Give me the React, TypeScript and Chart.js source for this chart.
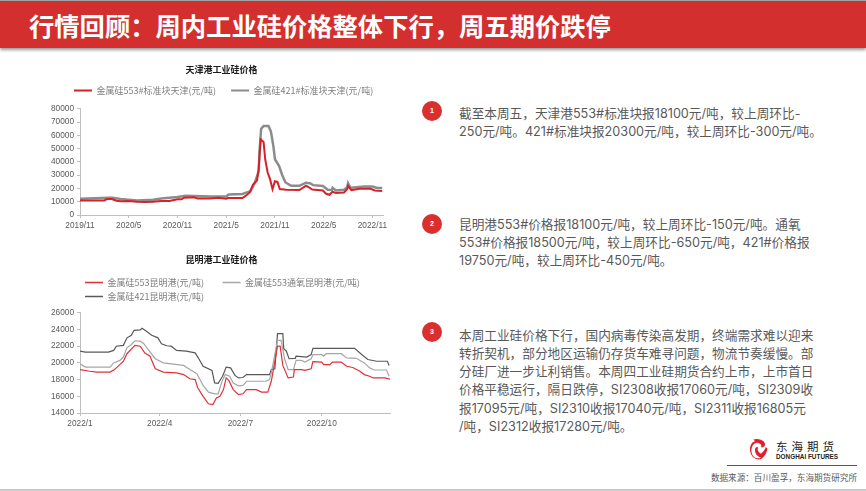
import { Chart, registerables } from 'chart.js';
import { useEffect, useRef } from 'react';

Chart.register(...registerables);

const CJK = '"Noto Sans CJK SC", "Liberation Sans", sans-serif';
const AXIS_FONT = '"Liberation Sans", Arial, sans-serif';
const BODY_FONT = 'Inter, "Noto Sans CJK SC", sans-serif';

const pageTitle = '行情回顾：周内工业硅价格整体下行，周五期价跌停';

// tianjin chart, x is months since 2019/11
const tianjinTitle = '天津港工业硅价格';
const tianjinLabels = ['2019/11', '2020/5', '2020/11', '2021/5', '2021/11', '2022/5', '2022/11'];
const tianjinTicks = [0, 6, 12, 18, 24, 30, 36];
const tj553Months = [0, 2, 3, 3.3, 3.9, 4.5, 5, 6, 7, 8, 9, 10, 11, 12, 12.5, 12.8, 14, 14.5, 16, 17, 18, 18.2, 20, 20.3, 20.9, 21.3, 21.8, 22, 22.1, 22.25, 22.6, 22.8, 23.1, 23.4, 23.7, 24, 24.3, 24.6, 25.4, 27, 27.8, 28, 28.6, 29.9, 30.3, 30.7, 31.1, 31.5, 32.5, 32.9, 33, 33.4, 34.4, 35.7, 36.3, 37.2];
const tj553Values = [11000, 11000, 11000, 12000, 12000, 10800, 10300, 10500, 10000, 9800, 10000, 10500, 10500, 11800, 11800, 13000, 13300, 12500, 12500, 13000, 12200, 12800, 12800, 14000, 17000, 23000, 26000, 35000, 45000, 57000, 55000, 42000, 32000, 27000, 19500, 25500, 25000, 19500, 19000, 18800, 22000, 21500, 19200, 18500, 16000, 15200, 17500, 16500, 17000, 19500, 22000, 18800, 19800, 20000, 18500, 18100];
const tj421Months = [0, 3.5, 4, 5, 7, 9, 10, 12, 13, 16, 18, 18.3, 20, 21, 21.5, 22, 22.1, 22.3, 22.6, 23.2, 23.5, 23.8, 24, 24.5, 24.9, 25.3, 26, 27, 27.8, 28.3, 28.7, 29.9, 30.5, 31, 31.1, 31.5, 32.5, 32.9, 33, 33.3, 35, 36, 36.5, 37.2];
const tj421Values = [12200, 13000, 13000, 12000, 11000, 11500, 12500, 13500, 14500, 14000, 14000, 15500, 15800, 18000, 24000, 33000, 48000, 65000, 67000, 67000, 63000, 52000, 42000, 37000, 30000, 24500, 22000, 22000, 24200, 24000, 22500, 21800, 19000, 18800, 20500, 18500, 19000, 21000, 24000, 20500, 21500, 21500, 20500, 20300];

// kunming chart, x is days since 2022/1/1
const kunmingTitle = '昆明港工业硅价格';
const kunmingLabels = ['2022/1', '2022/4', '2022/7', '2022/10'];
const kunmingTicks = [0, 90, 181, 273];
const km553Days = [0, 11, 19, 34, 39, 49, 53, 62, 68, 73, 79, 85, 94, 109, 117, 124, 130, 133, 139, 145, 150, 154, 158, 162, 165, 168, 173, 179, 184, 188, 199, 205, 212, 216, 223, 226, 229, 235, 241, 242, 250, 254, 261, 263, 273, 275, 282, 285, 295, 301, 308, 316, 321, 327, 331, 344, 350];
const km553Values = [19200, 19000, 18900, 18900, 19200, 20200, 21100, 22100, 22000, 21200, 20800, 19300, 18900, 18800, 18600, 18100, 18000, 17000, 16000, 15100, 15000, 15800, 16000, 16800, 18200, 17900, 16800, 16200, 16300, 16800, 16800, 16500, 16500, 17800, 22000, 22000, 19700, 18200, 18300, 19200, 19200, 19100, 19300, 20150, 20100, 19800, 19800, 20100, 20100, 19600, 19450, 19000, 18600, 18400, 18200, 18200, 18050];
const kmOxyDays = [0, 6, 34, 38, 45, 49, 53, 58, 62, 68, 72, 77, 85, 94, 117, 124, 132, 139, 145, 152, 156, 160, 164, 169, 173, 179, 184, 188, 210, 214, 216, 223, 227, 231, 235, 241, 244, 250, 254, 261, 263, 273, 275, 278, 295, 301, 312, 321, 327, 332, 346, 349];
const kmOxyValues = [19900, 19500, 19500, 20000, 20300, 20700, 21800, 22200, 22650, 22600, 22300, 21600, 20500, 20000, 19700, 19200, 18700, 17300, 16500, 16300, 16300, 17700, 18600, 18400, 17600, 17250, 17300, 17800, 17800, 18000, 18800, 22700, 22700, 20500, 19200, 19200, 20300, 20300, 20100, 20500, 21000, 21000, 20800, 21100, 21100, 20600, 20550, 20000, 19400, 19150, 19150, 18400];
const km421Days = [0, 6, 32, 38, 41, 49, 53, 58, 61, 68, 70, 75, 81, 88, 92, 98, 103, 109, 120, 130, 133, 139, 149, 152, 156, 161, 165, 170, 175, 179, 184, 188, 214, 216, 220, 223, 229, 230, 233, 236, 243, 244, 256, 261, 263, 310, 318, 325, 335, 347, 349];
const km421Values = [21400, 21300, 21300, 21500, 22000, 22100, 23000, 23300, 23900, 23950, 24150, 23800, 23300, 23000, 22300, 22050, 22000, 21500, 21400, 21200, 20700, 19600, 19100, 17600, 17550, 18400, 19500, 19400, 18500, 18200, 18250, 18600, 18600, 19200, 19300, 23500, 23500, 21700, 21400, 20500, 20550, 20800, 20700, 21000, 21750, 21750, 21000, 20400, 20200, 20200, 19700];

const notes = [
  { top: 104.5, lines: ['截至本周五，天津港553#标准块报18100元/吨，较上周环比-', '250元/吨。421#标准块报20300元/吨，较上周环比-300元/吨。'] },
  { top: 215.5, lines: ['昆明港553#价格报18100元/吨，较上周环比-150元/吨。通氧', '553#价格报18500元/吨，较上周环比-650元/吨，421#价格报', '19750元/吨，较上周环比-450元/吨。'] },
  { top: 326.5, lines: ['本周工业硅价格下行，国内病毒传染高发期，终端需求难以迎来', '转折契机，部分地区运输仍存货车难寻问题，物流节奏缓慢。部', '分硅厂进一步让利销售。本周四工业硅期货合约上市，上市首日', '价格平稳运行，隔日跌停，SI2308收报17060元/吨，SI2309收', '报17095元/吨，SI2310收报17040元/吨，SI2311收报16805元', '/吨，SI2312收报17280元/吨。'] },
];
const badgeCentres = [111, 224, 332];

function pairs(xs: number[], ys: number[]) {
  return xs.map((x, i) => ({ x, y: ys[i] }));
}

type PriceChartProps = {
  style: React.CSSProperties;
  title: string;
  titleShift: number;
  titleBottom: number;
  legendLeft: number;
  legendTop: number;
  legendGap: string;
  legendPadding: number;
  legendWidth: number;
  lineBox: number;
  datasets: { label: string; data: { x: number; y: number }[]; borderColor: string; borderWidth: number }[];
  xMax: number;
  xTicks: number[];
  xLabels: string[];
  yMin: number;
  yMax: number;
  yStep: number;
  paddingRight: number;
};

function PriceChart(props: PriceChartProps) {
  const chartRef = useRef<HTMLCanvasElement | null>(null);

  useEffect(() => {
    if (!chartRef.current) return;
    // title and legend have no offset options of their own
    const blockShift = {
      id: 'blockShift',
      afterLayout(chart: any) {
        if (chart.titleBlock) {
          chart.titleBlock.left += props.titleShift * 2;
        }
        if (chart.legend) {
          chart.legend.left = props.legendLeft;
          chart.legend.right = chart.width;
          chart.legend.top = props.legendTop;
        }
      },
    };
    const chart = new Chart(chartRef.current, {
      type: 'line',
      data: { datasets: props.datasets.map((d) => ({ ...d, pointRadius: 0, tension: 0, fill: false })) },
      plugins: [blockShift],
      options: {
        animation: false,
        responsive: false,
        layout: { padding: { right: props.paddingRight, top: 0, bottom: 0, left: 0 } },
        plugins: {
          title: {
            display: true,
            text: props.title,
            color: '#1a1a1a',
            font: { family: CJK, size: 9, weight: 'bold' },
            padding: { top: 9, bottom: props.titleBottom },
          },
          legend: {
            display: true,
            align: 'start',
            maxWidth: props.legendWidth,
            labels: {
              color: '#7f7f7f',
              font: { family: CJK, size: 9 },
              boxWidth: 18,
              boxHeight: props.lineBox,
              padding: props.legendPadding,
              generateLabels(c: Chart) {
                return Chart.defaults.plugins.legend.labels.generateLabels(c).map((item) => ({
                  ...item,
                  fillStyle: item.strokeStyle,
                  lineWidth: 0,
                  text: item.text + props.legendGap,
                }));
              },
            },
          },
          tooltip: { enabled: false },
        },
        scales: {
          x: {
            type: 'linear',
            min: 0,
            max: props.xMax,
            afterBuildTicks(axis) {
              axis.ticks = props.xTicks.map((value) => ({ value }));
            },
            afterFit(axis) {
              axis.height = 20;
            },
            border: { color: '#bfbfbf' },
            grid: { drawOnChartArea: false, tickLength: 3, color: '#bfbfbf' },
            ticks: {
              maxRotation: 0,
              autoSkip: false,
              color: '#595959',
              padding: 3,
              font: { family: AXIS_FONT, size: 8.3 },
              callback(value) {
                return props.xLabels[props.xTicks.indexOf(value as number)];
              },
            },
          },
          y: {
            min: props.yMin,
            max: props.yMax,
            afterFit(axis) {
              axis.width = 40;
            },
            border: { color: '#bfbfbf' },
            grid: { drawOnChartArea: false, tickLength: 3, color: '#bfbfbf' },
            ticks: {
              stepSize: props.yStep,
              color: '#595959',
              padding: 3,
              font: { family: AXIS_FONT, size: 8.3 },
              callback(value) {
                return String(value);
              },
            },
          },
        },
      },
    });

    return () => chart.destroy();
  }, []);

  return <canvas ref={chartRef} width={370} height={props.style.height as number} style={{ position: 'absolute', display: 'block', ...props.style }}></canvas>;
}

function Logo() {
  return (
    <div style={{ position: 'absolute', left: 750, top: 437 }}>
      <svg width={20} height={25} viewBox="0 0 24 28" style={{ position: 'absolute', left: 0, top: 0 }}>
        <path d="M4 2 C10 0 18 3 18 8 C18 11 15 12 13 11 C15 9 12 6 8 6 C3 7 1 13 2 18 C3 23 8 26 13 24 C10 23 6 20 6 15 C6 11 9 10 10 12 C8 14 10 17 13 19 C16 17 18 14 19 11 L21 13 C20 19 16 25 11 26 C5 26 0 21 0 14 C0 9 2 5 6 4 Z" fill="#e0202a" />
      </svg>
      <div style={{ position: 'absolute', left: 26, top: 3, fontFamily: CJK, fontSize: 11.5, lineHeight: '13px', letterSpacing: 4, color: '#222', whiteSpace: 'nowrap' }}>东海期货</div>
      <div style={{ position: 'absolute', left: 26, top: 16, fontFamily: AXIS_FONT, fontSize: 6.4, fontWeight: 'bold', lineHeight: '8px', color: '#222', whiteSpace: 'nowrap' }}>DONGHAI FUTURES</div>
    </div>
  );
}

export default function App() {
  return (
    <div style={{ position: 'fixed', left: 0, top: 0, width: 866, height: 491, background: '#fff', overflow: 'hidden' }}>
      <div style={{ position: 'absolute', left: 0, top: 0, width: 866, height: 1, background: '#a6a6a6' }}></div>
      <div style={{ position: 'absolute', left: 0, top: 1, width: 866, height: 47, background: '#d32f2f', boxShadow: '0 2px 3px rgba(0,0,0,0.4)' }}></div>
      <div style={{ position: 'absolute', left: 29, top: 7.5, fontFamily: CJK, fontSize: 25.3, lineHeight: '34px', fontWeight: 'bold', color: '#fff', whiteSpace: 'nowrap' }}>{pageTitle}</div>

      <PriceChart
        style={{ left: 40, top: 55, width: 370, height: 180 }}
        title={tianjinTitle}
        titleShift={10}
        titleBottom={0}
        legendLeft={19}
        legendTop={16}
        legendGap=""
        legendPadding={15}
        legendWidth={360}
        lineBox={2}
        datasets={[
          { label: '金属硅553#标准块天津(元/吨)', data: pairs(tj553Months, tj553Values), borderColor: '#d7212a', borderWidth: 2 },
          { label: '金属硅421#标准块天津(元/吨)', data: pairs(tj421Months, tj421Values), borderColor: '#8c8c8c', borderWidth: 2.5 },
        ]}
        xMax={37.3}
        xTicks={tianjinTicks}
        xLabels={tianjinLabels}
        yMin={0}
        yMax={80000}
        yStep={10000}
        paddingRight={27}
      />

      <PriceChart
        style={{ left: 40, top: 245, width: 370, height: 188 }}
        title={kunmingTitle}
        titleShift={6.5}
        titleBottom={10}
        legendLeft={40}
        legendTop={28}
        legendGap={'\u3000\u2002'}
        legendPadding={5}
        legendWidth={340}
        lineBox={1.5}
        datasets={[
          { label: '金属硅553昆明港(元/吨)', data: pairs(km553Days, km553Values), borderColor: '#e0303a', borderWidth: 1.2 },
          { label: '金属硅553通氧昆明港(元/吨)', data: pairs(kmOxyDays, kmOxyValues), borderColor: '#a6a6a6', borderWidth: 1.2 },
          { label: '金属硅421昆明港(元/吨)', data: pairs(km421Days, km421Values), borderColor: '#595959', borderWidth: 1.2 },
        ]}
        xMax={350}
        xTicks={kunmingTicks}
        xLabels={kunmingLabels}
        yMin={14000}
        yMax={26000}
        yStep={2000}
        paddingRight={20}
      />

      {badgeCentres.map((cy, i) => (
        <div key={i} style={{ position: 'absolute', left: 422, top: cy - 10, width: 20, height: 20, borderRadius: 10, background: '#d9302f', color: '#fff', fontFamily: AXIS_FONT, fontSize: 7, fontWeight: 'bold', lineHeight: '20px', textAlign: 'center' }}>{i + 1}</div>
      ))}
      {notes.map((note, i) => (
        <div key={i} style={{ position: 'absolute', left: 459, top: note.top, fontFamily: BODY_FONT, fontSize: 12.66, lineHeight: '18.3px', color: '#595959', whiteSpace: 'nowrap' }}>
          {note.lines.map((line, j) => (
            <div key={j}>{line}</div>
          ))}
        </div>
      ))}

      <Logo />
      <div style={{ position: 'absolute', left: 727, top: 465, width: 130, height: 1, background: '#c8262c' }}></div>
      <div style={{ position: 'absolute', right: 9, top: 471, fontFamily: CJK, fontSize: 8.6, lineHeight: '12px', color: '#595959', whiteSpace: 'nowrap' }}>数据来源：百川盈孚，东海期货研究所</div>
      <div style={{ position: 'absolute', left: 0, top: 489, width: 866, height: 2, background: '#c9c9c9' }}></div>
    </div>
  );
}
